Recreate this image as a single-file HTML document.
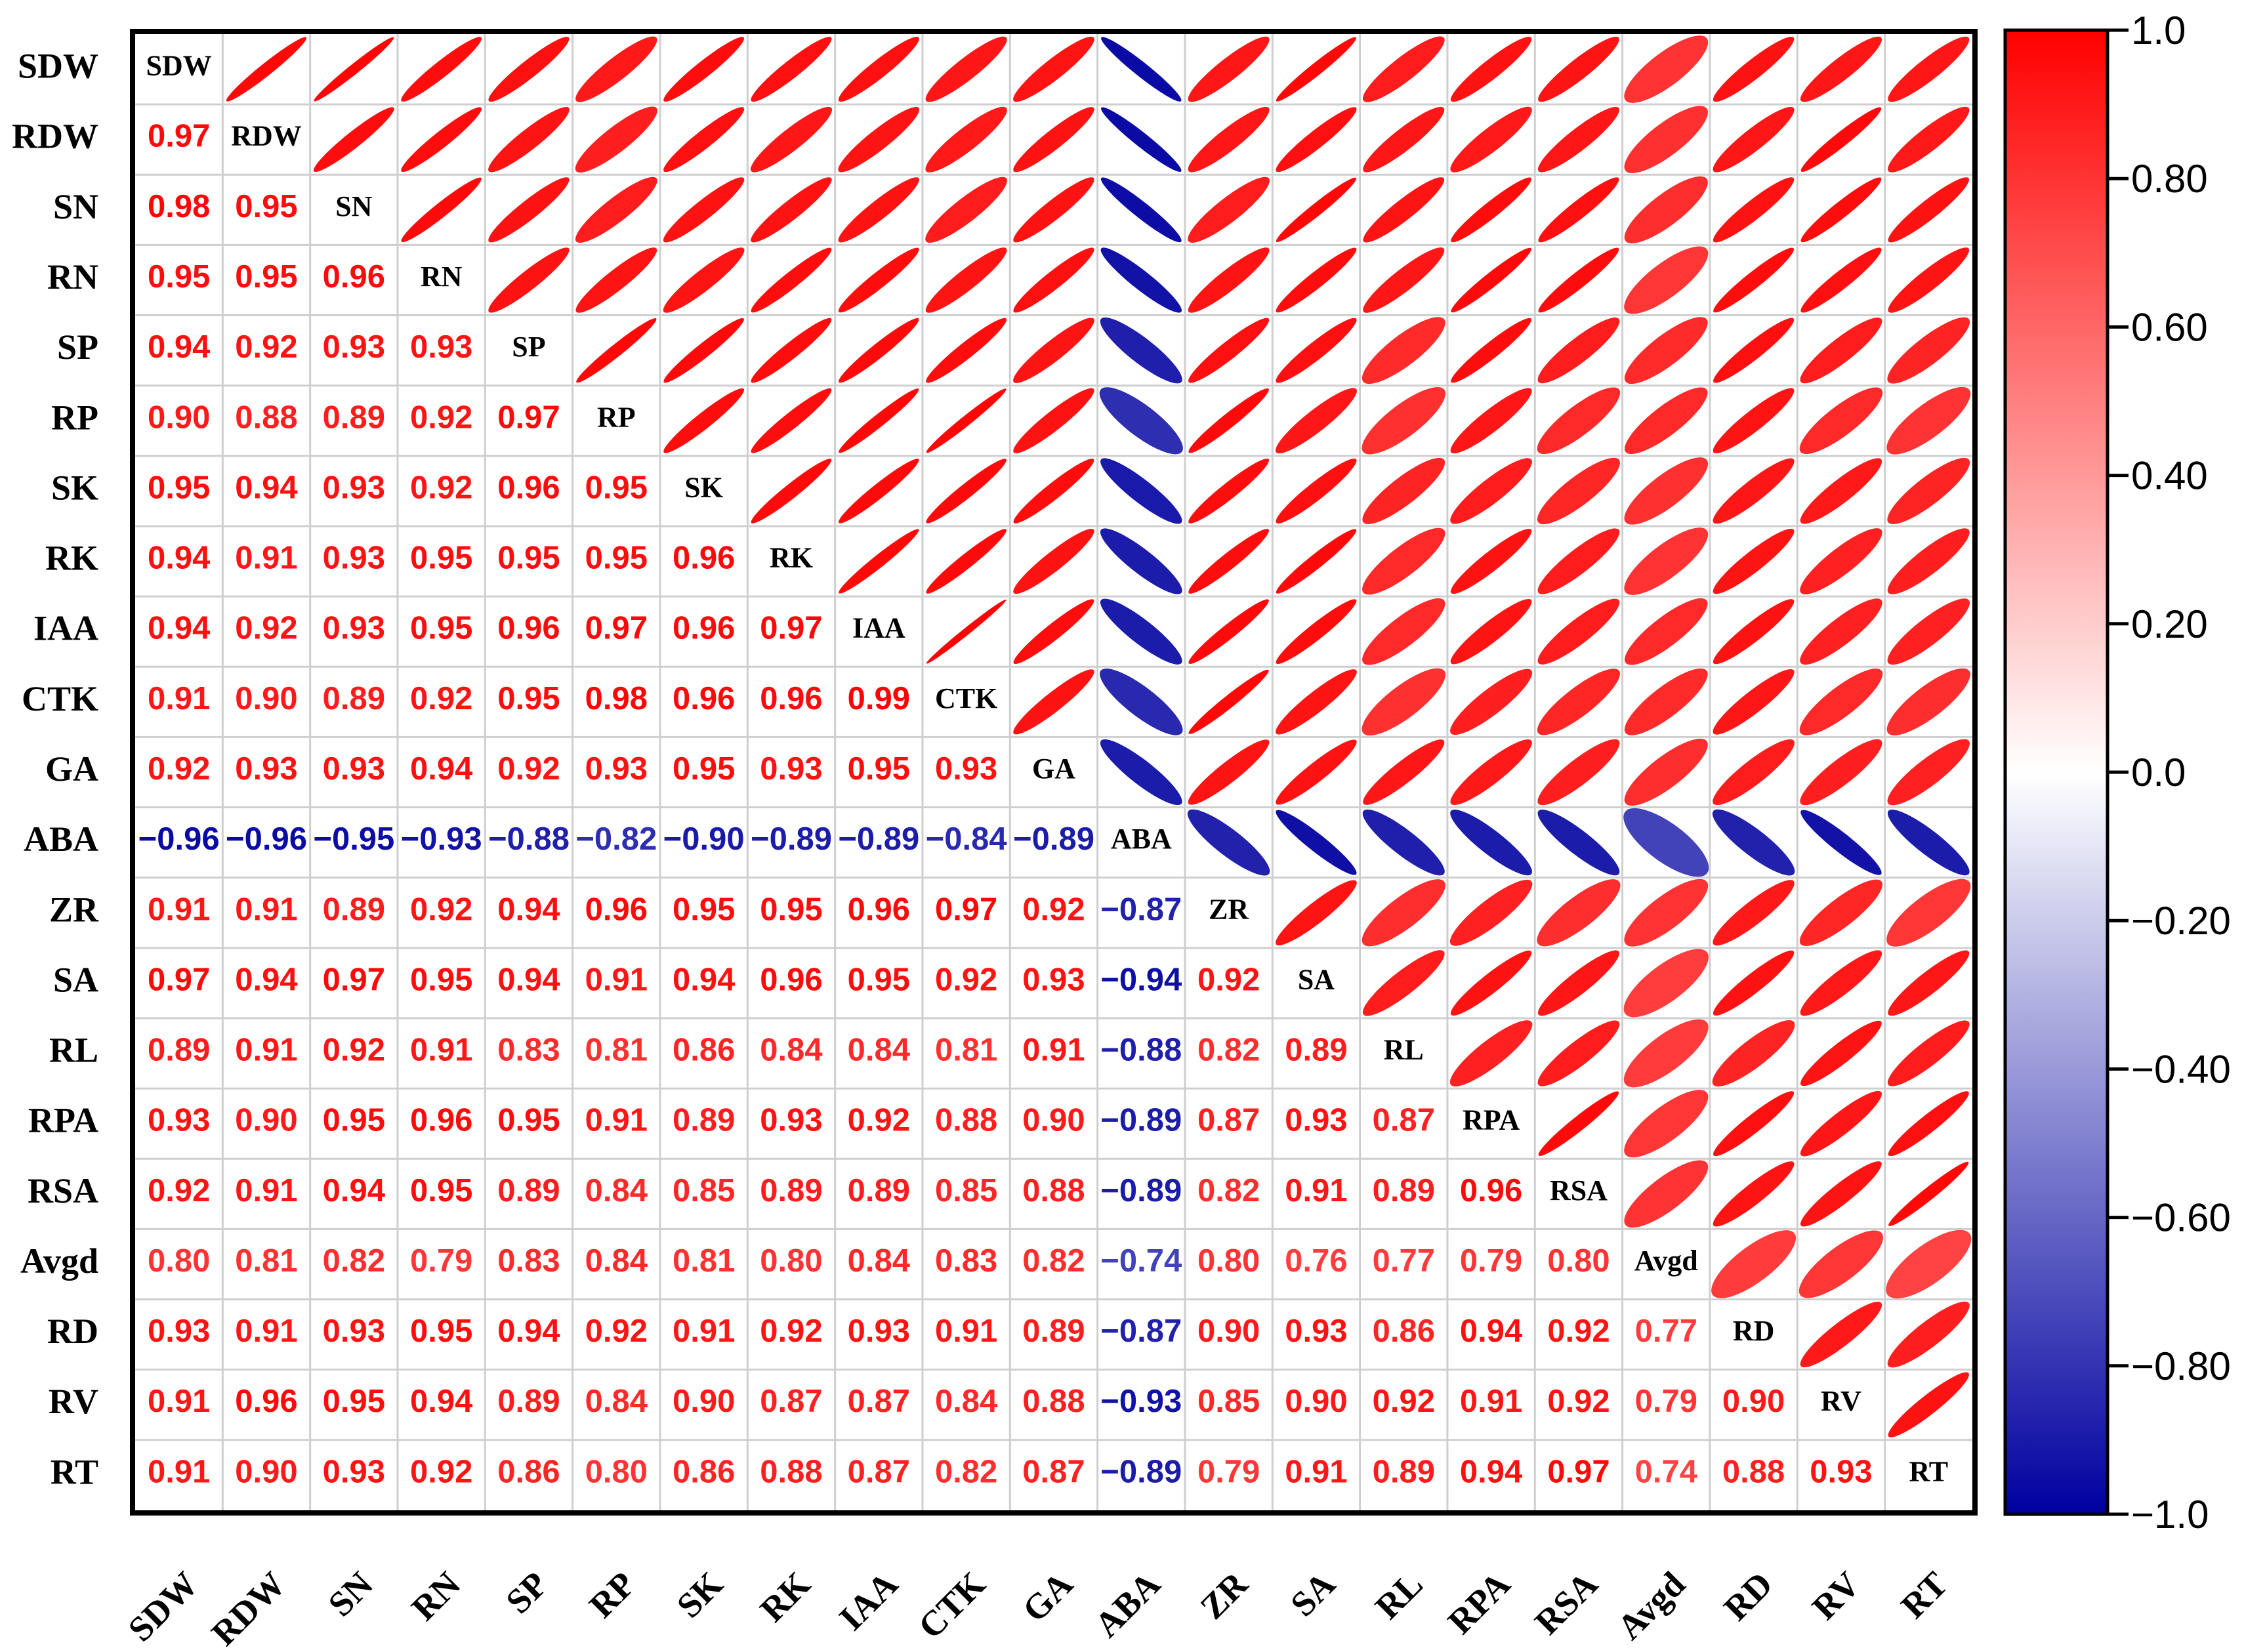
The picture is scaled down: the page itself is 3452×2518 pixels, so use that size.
<!DOCTYPE html>
<html><head><meta charset="utf-8"><style>
html,body{margin:0;padding:0;background:#fff;}
svg{display:block;}
</style></head><body>
<svg id="chart" width="3452" height="2518" viewBox="0 0 3452 2518" xmlns="http://www.w3.org/2000/svg">
<defs>
<linearGradient id="cbgrad" x1="0" y1="0" x2="0" y2="1">
<stop offset="0" stop-color="rgb(255,0,0)"/>
<stop offset="0.5" stop-color="rgb(255,255,255)"/>
<stop offset="1" stop-color="rgb(0,0,160)"/>
</linearGradient>
</defs>
<g id="grid"></g>
<g id="marks"></g>
<rect x="202" y="48" width="2808" height="2258" fill="none" stroke="#000" stroke-width="8"/>
<rect x="3056" y="46" width="156" height="2262" fill="url(#cbgrad)" stroke="#000" stroke-width="5"/>
<g id="cbticks"></g>
</svg>
<script>
const labels = ["SDW","RDW","SN","RN","SP","RP","SK","RK","IAA","CTK","GA","ABA","ZR","SA","RL","RPA","RSA","Avgd","RD","RV","RT"];
const lowerRows = [
[],
[0.97],
[0.98,0.95],
[0.95,0.95,0.96],
[0.94,0.92,0.93,0.93],
[0.90,0.88,0.89,0.92,0.97],
[0.95,0.94,0.93,0.92,0.96,0.95],
[0.94,0.91,0.93,0.95,0.95,0.95,0.96],
[0.94,0.92,0.93,0.95,0.96,0.97,0.96,0.97],
[0.91,0.90,0.89,0.92,0.95,0.98,0.96,0.96,0.99],
[0.92,0.93,0.93,0.94,0.92,0.93,0.95,0.93,0.95,0.93],
[-0.96,-0.96,-0.95,-0.93,-0.88,-0.82,-0.90,-0.89,-0.89,-0.84,-0.89],
[0.91,0.91,0.89,0.92,0.94,0.96,0.95,0.95,0.96,0.97,0.92,-0.87],
[0.97,0.94,0.97,0.95,0.94,0.91,0.94,0.96,0.95,0.92,0.93,-0.94,0.92],
[0.89,0.91,0.92,0.91,0.83,0.81,0.86,0.84,0.84,0.81,0.91,-0.88,0.82,0.89],
[0.93,0.90,0.95,0.96,0.95,0.91,0.89,0.93,0.92,0.88,0.90,-0.89,0.87,0.93,0.87],
[0.92,0.91,0.94,0.95,0.89,0.84,0.85,0.89,0.89,0.85,0.88,-0.89,0.82,0.91,0.89,0.96],
[0.80,0.81,0.82,0.79,0.83,0.84,0.81,0.80,0.84,0.83,0.82,-0.74,0.80,0.76,0.77,0.79,0.80],
[0.93,0.91,0.93,0.95,0.94,0.92,0.91,0.92,0.93,0.91,0.89,-0.87,0.90,0.93,0.86,0.94,0.92,0.77],
[0.91,0.96,0.95,0.94,0.89,0.84,0.90,0.87,0.87,0.84,0.88,-0.93,0.85,0.90,0.92,0.91,0.92,0.79,0.90],
[0.91,0.90,0.93,0.92,0.86,0.80,0.86,0.88,0.87,0.82,0.87,-0.89,0.79,0.91,0.89,0.94,0.97,0.74,0.88,0.93]
];
const cbTickValues = [1.0,0.8,0.6,0.4,0.2,0.0,-0.2,-0.4,-0.6,-0.8,-1.0];
const cbTickLabels = ["1.0","0.80","0.60","0.40","0.20","0.0","\u22120.20","\u22120.40","\u22120.60","\u22120.80","\u22121.0"];

const NS = "http://www.w3.org/2000/svg";
const X0 = 206, Y0 = 52, CW = 133.33, CH = 107.14, N = labels.length;
const xCell = i => X0 + i*CW;
const yCell = j => Y0 + j*CH;
const cbTop = 46, cbBot = 2308;
const cbY = v => cbTop + (1 - v)/2*(cbBot - cbTop);
function corr(i,j){ return i>j ? lowerRows[i][j] : lowerRows[j][i]; }
function color(r){
  const t = Math.abs(r);
  if (r >= 0) return `rgb(255,${Math.round(255*(1-t))},${Math.round(255*(1-t))})`;
  return `rgb(${Math.round(255*(1-t))},${Math.round(255*(1-t))},${Math.round(160*t+255*(1-t))})`;
}
function mk(tag, attrs, parent){
  const e = document.createElementNS(NS, tag);
  for (const k in attrs) e.setAttribute(k, attrs[k]);
  parent.appendChild(e); return e;
}
const grid = document.getElementById('grid');
const marks = document.getElementById('marks');
const svg = document.getElementById('chart');
for (let k=1;k<N;k++){
  let l1 = mk('line',{x1:xCell(k),x2:xCell(k),y1:Y0,y2:yCell(N),stroke:'#cfcfcf','stroke-width':3},grid);
  
  
  let l2 = mk('line',{y1:yCell(k),y2:yCell(k),x1:X0,x2:xCell(N),stroke:'#cfcfcf','stroke-width':3},grid);
  
  
}
for (let i=0;i<N;i++){
  for (let j=0;j<N;j++){
    const cx = xCell(j)+CW/2, cy = yCell(i)+CH/2;
    if (i===j){
      const t = mk('text',{x:cx,y:cy+9,'text-anchor':'middle','font-family':'"Liberation Serif",serif','font-weight':'bold','font-size':44,fill:'#000'},marks);
      t.textContent = labels[i];
      
      
    } else if (i>j){
      const r = corr(i,j);
      const t = mk('text',{x:cx,y:cy+11,'text-anchor':'middle','font-family':'"Liberation Sans",sans-serif','font-weight':'bold','font-size':49,fill:color(r)},marks);
      t.textContent = (r<0?'\u2212':'') + Math.abs(r).toFixed(2);
      
      
    } else {
      const r = corr(i,j);
      const a = 0.67, b = a*Math.sqrt((1-Math.abs(r))/(1+Math.abs(r)));
      const rot = r>=0 ? -45 : 45;
      const e = mk('ellipse',{cx:0,cy:0,rx:a,ry:b,fill:color(r),
        transform:`translate(${cx},${cy}) scale(${CW*0.96},${CH*0.96}) rotate(${rot})`},marks);
      
      
    }
  }
}
for (let i=0;i<N;i++){
  const t = mk('text',{x:150,y:yCell(i)+CH/2+13,'text-anchor':'end','font-family':'"Liberation Serif",serif','font-weight':'bold','font-size':54,fill:'#000'},svg);
  t.textContent = labels[i];
  
  
  const cx = xCell(i)+CW/2+32, cy = 2418;
  const c = mk('text',{x:cx,y:cy,'text-anchor':'end','font-family':'"Liberation Serif",serif','font-weight':'bold','font-size':54,fill:'#000',transform:`rotate(-45 ${cx} ${cy})`},svg);
  c.textContent = labels[i];
  
  
}
const cbt = document.getElementById('cbticks');
cbTickValues.forEach((v,k)=>{
  const y = cbY(v);
  const l = mk('line',{x1:3212,x2:3244,y1:y,y2:y,stroke:'#000','stroke-width':5},cbt);
  
  
  const t = mk('text',{x:3248,y:y+21,'font-family':'"Liberation Sans",sans-serif','font-size':60,fill:'#000'},cbt);
  t.textContent = cbTickLabels[k];
  
  
});
</script>
</body></html>
